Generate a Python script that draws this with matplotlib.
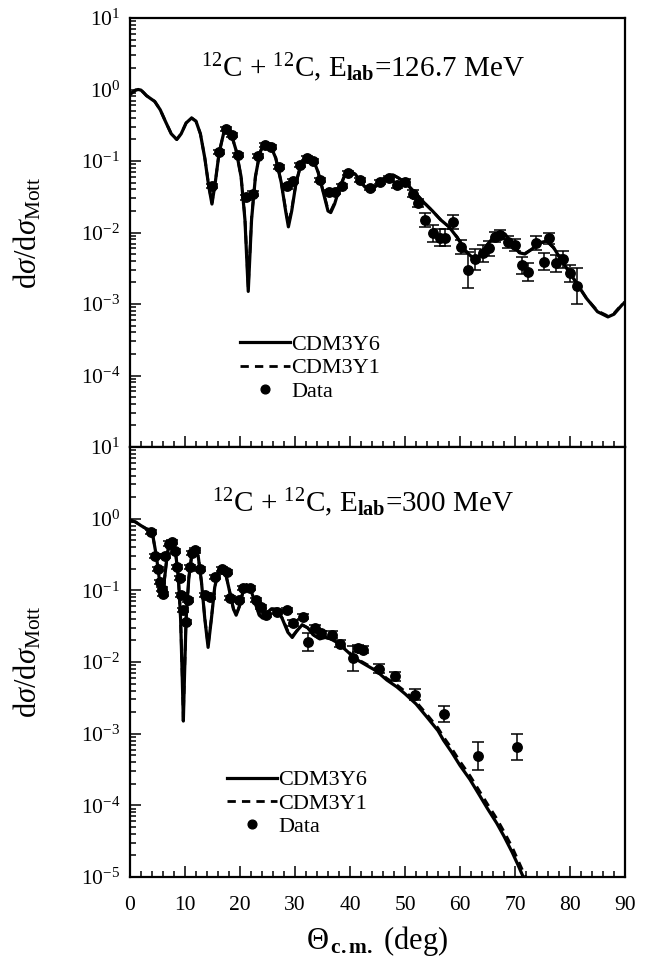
import numpy as np
import matplotlib
matplotlib.use("Agg")
import matplotlib.pyplot as plt
from matplotlib.ticker import FixedLocator, NullFormatter, LogLocator

plt.rcParams['font.family'] = ['Liberation Serif', 'DejaVu Serif']
plt.rcParams['mathtext.fontset'] = 'custom'
plt.rcParams['mathtext.rm'] = 'Liberation Serif'
plt.rcParams['mathtext.it'] = 'Liberation Serif:italic'
plt.rcParams['mathtext.bf'] = 'Liberation Serif:bold'

# ---------------- top panel (126.7 MeV) ----------------
top_theta_y6 = [0, 0.5, 1.0, 1.5, 2.0, 2.5, 3.0, 3.6, 4.5, 5.5, 6.5, 7.5, 8.5, 9.3, 10.2, 11.2,
                12.0, 12.8, 13.6, 14.3, 14.9, 15.5, 16.2, 17.0, 17.6, 18.4, 19.3, 20.2, 20.9,
                21.5, 22.1, 22.8, 23.6, 24.3, 24.9, 25.6, 26.5, 27.5, 28.3, 28.8, 29.4, 30.2,
                31.0, 31.8, 32.5, 33.3, 34.2, 35.2, 36.0, 36.5, 37.2, 38.0, 39.0, 40.0, 41.0,
                42.0, 43.0, 43.8, 44.8, 46.0, 47.0, 47.8, 48.8, 50.0, 51.0, 52.0, 53.5, 55.0,
                56.5, 58.0, 59.5, 61.0, 62.5, 63.5, 65.0, 66.3, 67.2, 68.2, 69.5, 70.8, 71.8,
                73.0, 74.5, 75.8, 77.0, 78.5, 80.0, 81.3, 83.0, 85.0, 86.9, 88.0, 89.5, 90.0]
top_sigma_y6 = [0.85, 0.92, 0.98, 1.0, 0.98, 0.9, 0.82, 0.76, 0.68, 0.52, 0.35, 0.24, 0.20, 0.24,
                0.34, 0.40, 0.36, 0.24, 0.11, 0.045, 0.025, 0.05, 0.13, 0.24, 0.28, 0.24, 0.14,
                0.06, 0.015, 0.0015, 0.015, 0.06, 0.13, 0.17, 0.18, 0.16, 0.11, 0.05, 0.02,
                0.012, 0.02, 0.05, 0.085, 0.11, 0.115, 0.105, 0.07, 0.035, 0.02, 0.019, 0.025,
                0.04, 0.062, 0.072, 0.065, 0.05, 0.041, 0.039, 0.045, 0.056, 0.062, 0.064,
                0.058, 0.05, 0.042, 0.035, 0.026, 0.02, 0.015, 0.012, 0.0085, 0.0055, 0.0043,
                0.0046, 0.0068, 0.009, 0.0102, 0.0095, 0.0068, 0.0052, 0.005, 0.0058, 0.0072,
                0.0076, 0.0062, 0.004, 0.0027, 0.0019, 0.0012, 0.00078, 0.00066, 0.00072,
                0.00098, 0.00105]
top_sigma_y1 = [0.85, 0.92, 0.98, 1.0, 0.98, 0.9, 0.82, 0.76, 0.68, 0.52, 0.35, 0.24, 0.20, 0.24,
                0.34, 0.40, 0.36, 0.24, 0.11, 0.046, 0.026, 0.05, 0.13, 0.24, 0.28, 0.24, 0.14,
                0.06, 0.016, 0.0017, 0.016, 0.06, 0.13, 0.17, 0.18, 0.16, 0.11, 0.05, 0.021,
                0.013, 0.021, 0.05, 0.085, 0.11, 0.115, 0.105, 0.07, 0.036, 0.021, 0.02, 0.026,
                0.04, 0.062, 0.072, 0.065, 0.05, 0.042, 0.04, 0.046, 0.056, 0.062, 0.064,
                0.058, 0.05, 0.042, 0.035, 0.026, 0.02, 0.015, 0.012, 0.0086, 0.0056, 0.0044,
                0.0047, 0.0068, 0.009, 0.0101, 0.0094, 0.0068, 0.0053, 0.0051, 0.0058, 0.0071,
                0.0075, 0.0061, 0.004, 0.0027, 0.0019, 0.0012, 0.0008, 0.00068, 0.00074,
                0.001, 0.00107]

top_data_theta = [14.9, 16.1, 17.45, 18.5, 19.7, 21.1, 22.3, 23.3, 24.5, 25.6, 27.0, 28.5, 29.7,
                  30.9, 32.1, 33.3, 34.6, 36.1, 37.3, 38.5, 39.7, 41.8, 43.6, 45.5, 47.0, 48.5,
                  50.0, 51.5, 52.4, 53.6, 55.0, 56.4, 57.3, 58.8, 60.1, 61.5, 62.7, 64.2, 65.3,
                  66.4, 67.3, 68.8, 70.0, 71.2, 72.4, 73.9, 75.2, 76.1, 77.5, 78.8, 80.0, 81.2]
top_data_sigma = [0.045, 0.135, 0.28, 0.23, 0.12, 0.031, 0.035, 0.117, 0.168, 0.157, 0.083, 0.044,
                  0.053, 0.088, 0.109, 0.10, 0.054, 0.037, 0.037, 0.045, 0.068, 0.054, 0.042,
                  0.051, 0.057, 0.046, 0.051, 0.035, 0.026, 0.015, 0.0098, 0.0085, 0.0085,
                  0.014, 0.0063, 0.003, 0.0042, 0.0051, 0.006, 0.0087, 0.0093, 0.0074, 0.0067,
                  0.0035, 0.0028, 0.0071, 0.0039, 0.0083, 0.0037, 0.0042, 0.0027, 0.0018]
top_data_errdec = [0.03, 0.03, 0.03, 0.03, 0.03, 0.03, 0.03, 0.03, 0.03, 0.03, 0.03, 0.03, 0.03,
                   0.03, 0.03, 0.03, 0.03, 0.03, 0.03, 0.03, 0.03, 0.03, 0.03, 0.03, 0.03, 0.04,
                   0.04, 0.05, 0.06, 0.10, 0.12, 0.12, 0.12, 0.10, 0.10, 0.25, 0.15, 0.12, 0.10,
                   0.07, 0.06, 0.08, 0.08, 0.12, 0.12, 0.10, 0.12, 0.08, 0.12, 0.12, 0.12, 0.25]

# ---------------- bottom panel (300 MeV) ----------------
bot_theta_y6 = [0, 1, 2, 3, 3.6, 4.2, 4.8, 5.3, 5.8, 6.3, 6.8, 7.3, 7.8, 8.3, 8.8, 9.2, 9.5, 9.7,
                9.9, 10.2, 10.7, 11.2, 11.8, 12.4, 13.0, 13.6, 14.2, 14.8, 15.4, 16.1, 16.7,
                17.4, 18.2, 18.8, 19.3, 19.9, 20.6, 21.2, 21.9, 22.8, 23.5, 24.1, 24.8, 25.7,
                26.7, 27.7, 28.7, 29.5, 30.3, 31.3, 32.3, 33.3, 34.5, 35.5, 36.5, 37.5, 38.5,
                40.0, 41.5, 43.0, 44.8, 46.7, 48.5, 50.0, 52.0, 54.0, 56.0, 57.0, 58.5, 60.0,
                61.8, 63.5, 65.0, 66.7, 68.0, 69.5, 70.5, 71.5, 72.5]
bot_sigma_y6 = [0.95, 0.9, 0.8, 0.72, 0.7, 0.55, 0.3, 0.15, 0.085, 0.15, 0.33, 0.5, 0.48, 0.33,
                0.15, 0.04, 0.006, 0.0015, 0.006, 0.04, 0.15, 0.3, 0.37, 0.3, 0.13, 0.04, 0.016,
                0.04, 0.11, 0.19, 0.21, 0.17, 0.09, 0.055, 0.045, 0.06, 0.1, 0.12, 0.105, 0.065,
                0.045, 0.041, 0.047, 0.055, 0.055, 0.04, 0.026, 0.022, 0.027, 0.033, 0.03,
                0.024, 0.021, 0.022, 0.021, 0.019, 0.0165, 0.013, 0.0105, 0.009, 0.0075,
                0.0056, 0.0045, 0.0036, 0.0026, 0.0017, 0.0011, 0.00081, 0.00055, 0.00036,
                0.00023, 0.00014, 9e-5, 5.6e-5, 3.7e-5, 2.2e-5, 1.5e-5, 1.0e-5, 7e-6]
bot_sigma_y1 = [0.95, 0.9, 0.8, 0.72, 0.7, 0.55, 0.3, 0.15, 0.086, 0.15, 0.33, 0.5, 0.48, 0.33,
                0.15, 0.04, 0.0065, 0.0017, 0.0065, 0.04, 0.15, 0.3, 0.37, 0.3, 0.13, 0.041,
                0.017, 0.041, 0.11, 0.19, 0.21, 0.17, 0.09, 0.056, 0.046, 0.06, 0.1, 0.12, 0.105,
                0.066, 0.046, 0.042, 0.048, 0.055, 0.055, 0.041, 0.027, 0.023, 0.027, 0.033,
                0.03, 0.024, 0.021, 0.022, 0.021, 0.0192, 0.0168, 0.0133, 0.0108, 0.0093,
                0.0078, 0.0059, 0.0048, 0.0039, 0.0028, 0.00185, 0.0012, 0.0009, 0.00062,
                0.00041, 0.00026, 0.00016, 0.000104, 6.5e-5, 4.3e-5, 2.6e-5, 1.75e-5, 1.18e-5,
                8.2e-6]

bot_data_theta = [3.9, 4.5, 5.0, 5.5, 5.8, 6.0, 6.4, 7.0, 7.6, 8.2, 8.5, 9.1, 9.3, 9.7, 10.2,
                  10.5, 10.9, 11.2, 11.9, 12.7, 13.6, 14.5, 15.5, 16.7, 17.7, 18.2, 19.9, 20.6,
                  21.8, 22.9, 23.9, 24.8, 26.7, 28.5, 29.7, 31.5, 32.4, 33.6, 34.8, 36.7, 38.2,
                  40.6, 41.5, 42.4, 45.2, 48.2, 51.8, 57.0, 63.2, 70.3]
bot_data_sigma = [0.65, 0.30, 0.20, 0.13, 0.105, 0.088, 0.30, 0.45, 0.47, 0.35, 0.21, 0.148,
                  0.086, 0.053, 0.036, 0.074, 0.21, 0.33, 0.36, 0.2, 0.086, 0.082, 0.155, 0.2,
                  0.18, 0.078, 0.074, 0.107, 0.107, 0.074, 0.059, 0.045, 0.05, 0.053, 0.035,
                  0.043, 0.019, 0.030, 0.025, 0.024, 0.018, 0.0112, 0.0155, 0.0148, 0.0081,
                  0.0063, 0.0035, 0.0019, 0.00049, 0.00065]
bot_data_errdec = [0.03, 0.03, 0.03, 0.03, 0.03, 0.03, 0.03, 0.03, 0.03, 0.03, 0.03, 0.03, 0.03,
                   0.03, 0.03, 0.03, 0.03, 0.03, 0.03, 0.03, 0.03, 0.03, 0.03, 0.03, 0.03, 0.03,
                   0.03, 0.03, 0.03, 0.03, 0.03, 0.03, 0.03, 0.03, 0.04, 0.04, 0.12, 0.04, 0.04,
                   0.05, 0.05, 0.17, 0.05, 0.05, 0.06, 0.06, 0.08, 0.11, 0.2, 0.18]

top_title = r"$^{12}$C + $^{12}$C, E$_{\mathbf{lab}}$=126.7 MeV"
bot_title = r"$^{12}$C + $^{12}$C, E$_{\mathbf{lab}}$=300 MeV"
legend_labels = ["CDM3Y6", "CDM3Y1", "Data"]
ylabel = r"d$\sigma$/d$\sigma_{\mathrm{Mott}}$"
xlabel = r"$\Theta_{\,\mathbf{c.m.}}$ (deg)"
xticks = [0, 10, 20, 30, 40, 50, 60, 70, 80, 90]
decades = [-5, -4, -3, -2, -1, 0, 1]

W, H = 652, 966
fig = plt.figure(figsize=(W / 100, H / 100), dpi=100)
L, R = 130 / W, 625 / W
axes = []
for (t, b) in [(18, 447), (447, 877)]:
    ax = fig.add_axes([L, 1 - b / H, R - L, (b - t) / H])
    axes.append(ax)


def errs(vals, dec):
    v = np.array(vals)
    d = np.array(dec)
    return np.vstack([v - v / 10 ** d, v * 10 ** d - v])


panels = [
    (axes[0], top_theta_y6, top_sigma_y6, top_sigma_y1, top_data_theta, top_data_sigma,
     top_data_errdec, top_title, 0.885, (0.222, 0.262), False),
    (axes[1], bot_theta_y6, bot_sigma_y6, bot_sigma_y1, bot_data_theta, bot_data_sigma,
     bot_data_errdec, bot_title, 0.87, (0.196, 0.249), True),
]

for (ax, th, s6, s1, dth, ds, de, title, ty, lpos, is_bottom) in panels:
    ax.set_yscale('log')
    ax.set_xlim(0, 90)
    ax.set_ylim(1e-5, 1e1)
    l6, = ax.plot(th, s6, '-', color='black', lw=2.3, label=legend_labels[0], zorder=3)
    l1, = ax.plot(th, s1, '--', color='black', lw=2.0, dashes=(3, 2.2), label=legend_labels[1], zorder=2)
    ax.errorbar(dth, ds, yerr=errs(ds, de), fmt='o', color='black', ms=6.8,
                elinewidth=1.1, capsize=4.5, capthick=1.1, zorder=4, label=legend_labels[2])
    dot, = ax.plot([], [], 'o', color='black', ms=6.3)
    ax.text(0.47, ty, title, transform=ax.transAxes, ha='center', va='center', fontsize=21)
    ax.legend([l6, l1, dot], legend_labels, loc='upper left', bbox_to_anchor=lpos,
              frameon=False, fontsize=16, handlelength=2.25, handletextpad=0.05,
              labelspacing=0.12, borderpad=0, borderaxespad=0)
    for sp in ax.spines.values():
        sp.set_linewidth(1.6)
    ax.xaxis.set_major_locator(FixedLocator(xticks))
    ax.xaxis.set_minor_locator(FixedLocator(np.arange(0, 91, 2)))
    ax.yaxis.set_major_locator(FixedLocator([10.0 ** d for d in decades]))
    ax.yaxis.set_minor_locator(LogLocator(base=10, subs=np.arange(2, 10), numticks=20))
    ax.yaxis.set_minor_formatter(NullFormatter())
    ylabs = [r"$10^{%d}$" % d for d in decades]
    if not is_bottom:
        ylabs[0] = ""
    ax.set_yticklabels(ylabs)
    ax.tick_params(which='both', direction='in', top=False, right=False, width=1.1)
    ax.tick_params(which='major', length=8)
    ax.tick_params(which='minor', length=4)
    ax.tick_params(axis='y', which='major', labelsize=15.5, pad=7)
    if is_bottom:
        ax.set_xticklabels([str(x) for x in xticks])
        ax.tick_params(axis='x', which='major', labelsize=15.5, pad=14)
        ax.set_xlabel(xlabel, fontsize=22, labelpad=6)
    else:
        ax.set_xticklabels([])
    ax.set_ylabel(ylabel, fontsize=22)
    ax.yaxis.set_label_coords(-0.175, 0.5)

fig.savefig("out.png", dpi=100)
